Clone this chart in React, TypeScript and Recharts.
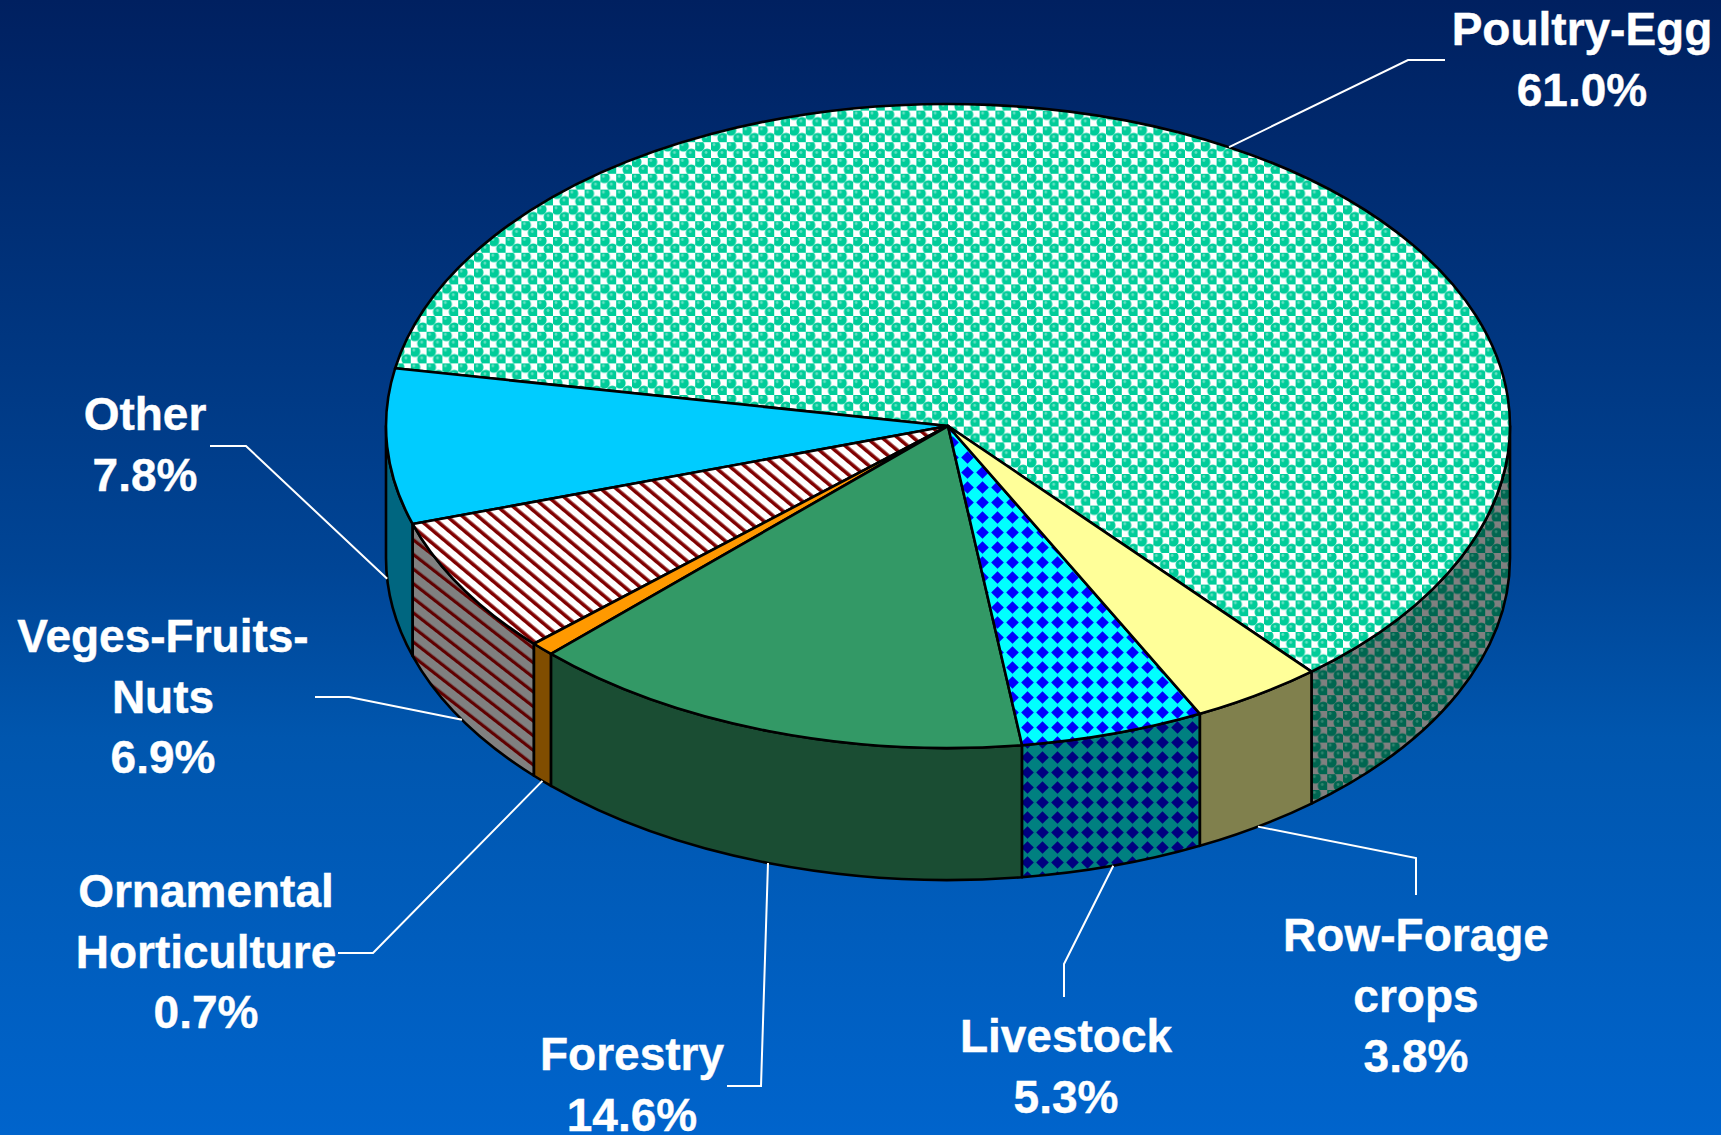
import { PieChart, Pie } from 'recharts';

const categories = ['Poultry-Egg', 'Other', 'Veges-Fruits-Nuts', 'Ornamental Horticulture', 'Forestry', 'Livestock', 'Row-Forage crops'];
const values = [61.0, 7.8, 6.9, 0.7, 14.6, 5.3, 3.8];
const labelLines = [['Poultry-Egg'], ['Other'], ['Veges-Fruits-', 'Nuts'], ['Ornamental', 'Horticulture'], ['Forestry'], ['Livestock'], ['Row-Forage', 'crops']];
const topFills = ['url(#poultryTop)', '#00ccff', 'url(#vegesTop)', '#ff9900', '#339966', 'url(#livestockTop)', '#ffff99'];
const sideFills = ['url(#poultrySide)', '#006680', 'url(#vegesSide)', '#804d00', '#1a4d33', 'url(#livestockSide)', '#80804d'];

const data = categories.map((name, i) => ({ name, value: values[i], top: topFills[i], side: sideFills[i] }));

// leader elbows and text anchors, same order as categories
const labelLayout = [
    { elbow: [1408, 60], end: [1445, 60], textX: 1582, textY: 45 },
    { elbow: [246, 446], end: [210, 446], textX: 145, textY: 430 },
    { elbow: [349, 697], end: [315, 697], textX: 163, textY: 652 },
    { elbow: [373, 953], end: [338, 953], textX: 206, textY: 907 },
    { elbow: [761, 1086], end: [727, 1086], textX: 632, textY: 1070 },
    { elbow: [1064, 964], end: [1064, 997], textX: 1066, textY: 1052 },
    { elbow: [1416, 858], end: [1416, 895], textX: 1416, textY: 951 },
];

const WIDTH = 1721;
const HEIGHT = 1135;
const SQUASH = 0.573;
const DEPTH = 132;
const RAD = Math.PI / 180;

const pointAt = (cx: number, cy: number, r: number, angle: number) => ({
    x: cx + r * Math.cos(angle * RAD),
    y: cy - r * SQUASH * Math.sin(angle * RAD),
});

const Slice = (props: any) => {
    const { cx, cy, outerRadius: r, startAngle, endAngle, top, side } = props;
    const ry = r * SQUASH;
    const a = pointAt(cx, cy, r, startAngle);
    const b = pointAt(cx, cy, r, endAngle);
    const large = endAngle - startAngle > 180 ? 1 : 0;
    const walls: string[] = [];
    // only the part of the rim facing the viewer gets a wall
    [-1, 0].forEach((k) => {
        const lo = Math.max(startAngle, k * 360 + 180);
        const hi = Math.min(endAngle, k * 360 + 360);
        if (hi > lo) {
            const p = pointAt(cx, cy, r, lo);
            const q = pointAt(cx, cy, r, hi);
            walls.push(
                `M${p.x},${p.y} A${r},${ry} 0 0 0 ${q.x},${q.y} L${q.x},${q.y + DEPTH} A${r},${ry} 0 0 1 ${p.x},${p.y + DEPTH} Z`
            );
        }
    });
    return (
        <g>
            {walls.map((d) => (
                <path key={d} d={d} fill={side} stroke="#000" strokeWidth={2.6} strokeLinejoin="round" />
            ))}
            <path
                d={`M${cx},${cy} L${a.x},${a.y} A${r},${ry} 0 ${large} 0 ${b.x},${b.y} Z`}
                fill={top}
                stroke="#000"
                strokeWidth={2.6}
                strokeLinejoin="round"
            />
        </g>
    );
};

const SliceLabel = (props: any) => {
    const { cx, cy, outerRadius, midAngle, index, value } = props;
    const layout = labelLayout[index];
    const start = pointAt(cx, cy, outerRadius, midAngle);
    const facing = Math.sin(midAngle * RAD) < 0;
    const y0 = facing ? start.y + DEPTH : start.y;
    const lines = [...labelLines[index], `${value.toFixed(1)}%`];
    return (
        <g>
            <polyline
                points={`${start.x},${y0} ${layout.elbow.join(',')} ${layout.end.join(',')}`}
                fill="none"
                stroke="#fff"
                strokeWidth={2}
            />
            <text
                x={layout.textX}
                y={layout.textY}
                textAnchor="middle"
                fill="#fff"
                stroke="#fff"
                strokeWidth={0.4}
                fontFamily="Liberation Sans, Arial, sans-serif"
                fontWeight="bold"
                fontSize={46}
            >
                {lines.map((line, i) => (
                    <tspan key={line} x={layout.textX} dy={i === 0 ? 0 : 60.5}>
                        {line}
                    </tspan>
                ))}
            </text>
        </g>
    );
};

const App = () => {
    return (
        <div
            style={{
                position: 'absolute',
                left: 0,
                top: 0,
                width: WIDTH,
                height: HEIGHT,
                overflow: 'hidden',
                background: 'linear-gradient(180deg, #002060 0%, #004596 50%, #0056ae 65%, #0064cc 100%)',
            }}
        >
            <PieChart width={WIDTH} height={HEIGHT} margin={{ top: 0, right: 0, bottom: 0, left: 0 }}>
                <defs>
                    <pattern id="poultryTop" patternUnits="userSpaceOnUse" width={15.8} height={15.8}>
                        <rect width={15.8} height={15.8} fill="#fff" />
                        <circle cx={4} cy={4} r={5.5} fill="#00cc99" />
                        <circle cx={11.9} cy={11.9} r={5.5} fill="#00cc99" />
                        <circle cx={3} cy={2.5} r={1.4} fill="#66e0c2" />
                        <circle cx={10.9} cy={10.4} r={1.4} fill="#66e0c2" />
                    </pattern>
                    <pattern id="poultrySide" patternUnits="userSpaceOnUse" width={15.8} height={15.8}>
                        <rect width={15.8} height={15.8} fill="#808080" />
                        <circle cx={4} cy={4} r={5.5} fill="#006650" />
                        <circle cx={11.9} cy={11.9} r={5.5} fill="#006650" />
                        <circle cx={3} cy={2.5} r={1.4} fill="#338570" />
                        <circle cx={10.9} cy={10.4} r={1.4} fill="#338570" />
                    </pattern>
                    <pattern id="livestockTop" patternUnits="userSpaceOnUse" width={15} height={15}>
                        <rect width={15} height={15} fill="#00ffff" />
                        <path d="M7.5,1.2 L13.8,7.5 L7.5,13.8 L1.2,7.5 Z" fill="#0000ff" />
                    </pattern>
                    <pattern id="livestockSide" patternUnits="userSpaceOnUse" width={15} height={15}>
                        <rect width={15} height={15} fill="#008080" />
                        <path d="M7.5,1.2 L13.8,7.5 L7.5,13.8 L1.2,7.5 Z" fill="#000080" />
                    </pattern>
                    <pattern id="vegesTop" patternUnits="userSpaceOnUse" width={10} height={10} patternTransform="rotate(-50)">
                        <rect width={10} height={10} fill="#fff" />
                        <rect width={3.6} height={10} fill="#800000" />
                    </pattern>
                    <pattern id="vegesSide" patternUnits="userSpaceOnUse" width={11.5} height={11.5} patternTransform="rotate(-52)">
                        <rect width={11.5} height={11.5} fill="#808080" />
                        <rect width={3.2} height={11.5} fill="#600000" />
                    </pattern>
                </defs>
                <Pie
                    data={data}
                    dataKey="value"
                    nameKey="name"
                    cx={948}
                    cy={426}
                    innerRadius={0}
                    outerRadius={562}
                    startAngle={-49.7}
                    endAngle={310.3}
                    paddingAngle={0}
                    stroke="none"
                    shape={Slice}
                    label={SliceLabel}
                    labelLine={false}
                    isAnimationActive={false}
                />
            </PieChart>
        </div>
    );
};

export default App;
